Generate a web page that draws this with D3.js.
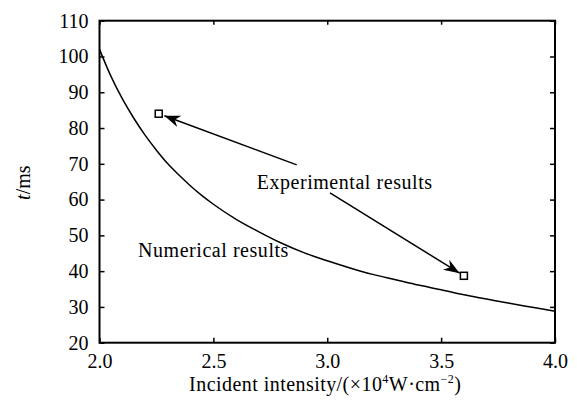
<!DOCTYPE html>
<html><head><meta charset="utf-8">
<script src="https://cdn.jsdelivr.net/npm/d3@7"></script>
<style>
body{margin:0;background:#fff;}
svg{display:block;}
svg text{font-family:'Liberation Serif','Times New Roman',Times,'DejaVu Serif',serif;fill:#000;}
</style></head>
<body><svg id="c" width="577" height="403"></svg>
<script>
// Numerical curve (incident intensity ×10^4 W/cm^2, t in ms)
const curveX = [2.00,2.05,2.10,2.15,2.20,2.25,2.30,2.35,2.40,2.45,2.50,2.60,2.70,2.80,2.90,3.00,3.10,3.20,3.30,3.40,3.50,3.60,3.70,3.80,3.90,4.00];
const curveY = [102.0,94.5,88.2,82.8,78.0,73.8,70.0,66.8,63.8,61.1,58.7,54.5,51.0,47.8,45.1,42.9,40.9,39.1,37.6,36.1,34.8,33.4,32.2,31.0,29.9,28.8];
// Experimental points
const expX = [2.26,3.6];
const expY = [84.0,38.7];
const xTicks = [2.0,2.5,3.0,3.5,4.0];
const yTicks = [20,30,40,50,60,70,80,90,100,110];
const xDomain = [2.0,4.0];
const yDomain = [20,110];

const FONT = "'Liberation Serif','Times New Roman',Times,'DejaVu Serif',serif";
const svg = d3.select("#c").attr("font-family",FONT);
const L=99.5, R=555, T=20.7, B=342.7;
const x = d3.scaleLinear().domain(xDomain).range([L,R]);
const y = d3.scaleLinear().domain(yDomain).range([B,T]);
const fs = 20;

// curve
const line = d3.line().x(d=>x(d[0])).y(d=>y(d[1])).curve(d3.curveMonotoneX);
svg.append("path").datum(curveX.map((v,i)=>[v,curveY[i]]))
  .attr("d",line).attr("fill","none").attr("stroke","#000").attr("stroke-width",1.5);

// axes
const gB = svg.append("g").attr("transform",`translate(0,${B})`)
  .call(d3.axisBottom(x).tickValues(xTicks).tickFormat(d3.format(".1f")).tickSizeInner(-5).tickSizeOuter(0).tickPadding(11));
const gT = svg.append("g").attr("transform",`translate(0,${T})`)
  .call(d3.axisTop(x).tickValues(xTicks).tickFormat("").tickSizeInner(-4).tickSizeOuter(0));
const gL = svg.append("g").attr("transform",`translate(${L},0)`)
  .call(d3.axisLeft(y).tickValues(yTicks).tickSizeInner(-5).tickSizeOuter(0).tickPadding(11));
const gR = svg.append("g").attr("transform",`translate(${R},0)`)
  .call(d3.axisRight(y).tickValues(yTicks).tickFormat("").tickSizeInner(-5).tickSizeOuter(0));
[gB,gT,gL,gR].forEach(g=>{
  g.attr("font-family",FONT).attr("font-size",fs);
  g.selectAll(".domain").remove();
  g.selectAll(".tick line").attr("stroke","#000").attr("stroke-width",1.5);
  g.selectAll("text").attr("fill","#000");
});
svg.append("rect").attr("x",L).attr("y",T).attr("width",R-L).attr("height",B-T)
  .attr("fill","none").attr("stroke","#000").attr("stroke-width",2);

// experimental squares
svg.selectAll("rect.pt").data(expX.map((v,i)=>[v,expY[i]])).enter().append("rect")
  .attr("class","pt").attr("x",d=>x(d[0])-3.5).attr("y",d=>y(d[1])-3.5)
  .attr("width",7).attr("height",7).attr("fill","#fff").attr("stroke","#000").attr("stroke-width",1.5);

// arrows
const defs = svg.append("defs");
defs.append("marker").attr("id","ah").attr("markerUnits","userSpaceOnUse")
  .attr("viewBox","-16 -7 18 14").attr("refX",0).attr("refY",0)
  .attr("markerWidth",18).attr("markerHeight",14).attr("orient","auto")
  .append("path").attr("d","M0,0 L-16,-6 L-11,0 L-16,6 Z").attr("fill","#000");
const tails = [[2.866,69.7],[3.012,61.9]];
tails.forEach((t,i)=>{
  const px=x(expX[i]), py=y(expY[i]);
  const tx=x(t[0]), ty=y(t[1]);
  const dx=tx-px, dy=ty-py, len=Math.hypot(dx,dy);
  const off = i===0?6:5;
  svg.append("line").attr("x1",tx).attr("y1",ty)
    .attr("x2",px+dx/len*off).attr("y2",py+dy/len*off)
    .attr("stroke","#000").attr("stroke-width",1.5).attr("marker-end","url(#ah)");
});

// annotations
svg.append("text").attr("x",x(2.69)).attr("y",y(63.05)).attr("font-size",fs)
  .attr("letter-spacing","0.55px").text("Experimental results");
svg.append("text").attr("x",x(2.169)).attr("y",y(43.95)).attr("font-size",fs)
  .attr("letter-spacing","0.55px").text("Numerical results");

// axis titles
const xt = svg.append("text").attr("x",(L+R)/2-2).attr("y",390.5).attr("text-anchor","middle")
  .attr("font-size",fs).attr("letter-spacing","0.45px");
xt.append("tspan").text("Incident intensity/(×10");
xt.append("tspan").attr("font-size",12).attr("dy",-8).text("4");
xt.append("tspan").attr("dy",8).text("W·cm");
xt.append("tspan").attr("font-size",12).attr("dy",-8).text("−2");
xt.append("tspan").attr("dy",8).text(")");

const yt = svg.append("text").attr("transform",`translate(29.5,${(T+B)/2+1}) rotate(-90)`)
  .attr("text-anchor","middle").attr("font-size",fs);
yt.append("tspan").attr("font-style","italic").text("t");
yt.append("tspan").text("/ms");
</script></body></html>
